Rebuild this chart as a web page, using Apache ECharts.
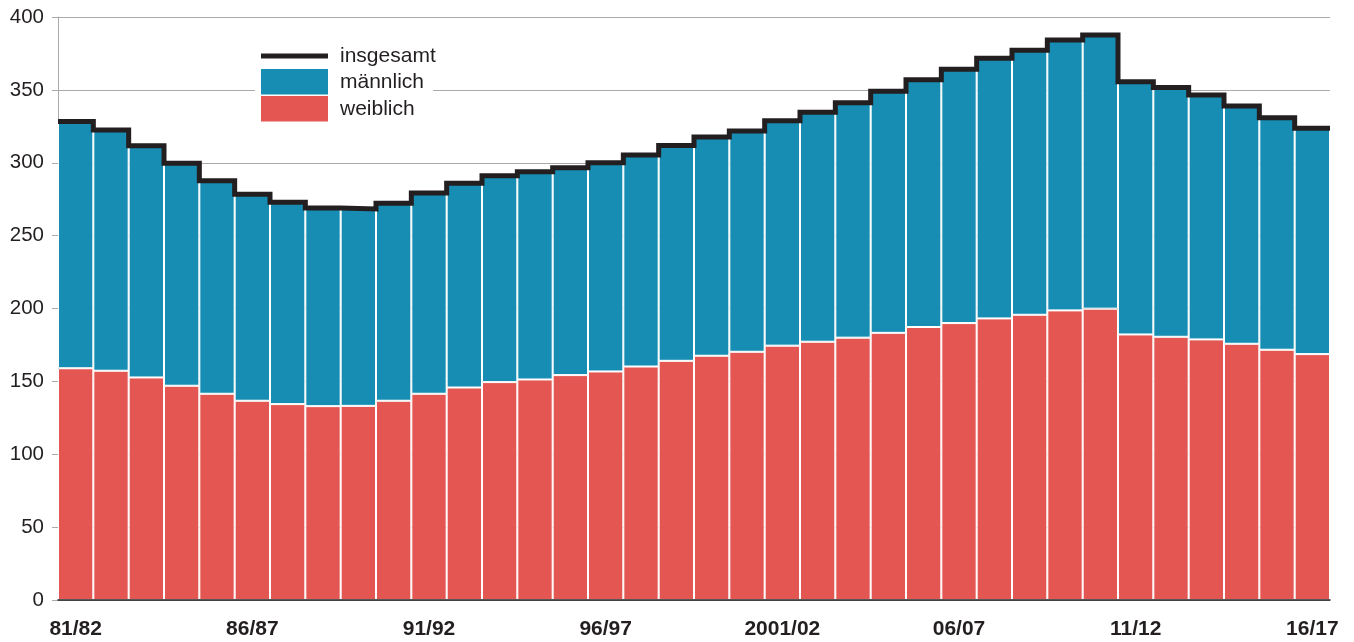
<!DOCTYPE html>
<html>
<head>
<meta charset="utf-8">
<script src="https://cdn.jsdelivr.net/npm/echarts@6/dist/echarts.min.js"></script>
<style>
html,body{margin:0;padding:0;background:#fff;}
#chart{width:1354px;height:642px;}
</style>
</head>
<body>
<div id="chart"></div>
<script>
const categories = ["81/82","82/83","83/84","84/85","85/86","86/87","87/88","88/89","89/90","90/91",
  "91/92","92/93","93/94","94/95","95/96","96/97","97/98","98/99","99/2000","2000/01",
  "2001/02","02/03","03/04","04/05","05/06","06/07","07/08","08/09","09/10","10/11",
  "11/12","12/13","13/14","14/15","15/16","16/17"];
const weiblich = [159,157.3,152.7,147,141.5,136.7,134.4,133,133.2,136.7,
  141.5,145.8,149.5,151.3,154.3,156.8,160.2,164.1,167.6,170.3,
  174.5,177.2,180,183.3,187.3,190,193.2,195.7,198.7,199.9,
  182.2,180.6,178.8,175.8,171.7,168.7];
const maennlich = [169.3,165.2,158.9,152.6,146.2,141.7,138.5,136,135.1,135.5,
  137.7,140.1,141.5,142.5,142.2,143.2,145.2,147.7,150.1,151.5,
  154.4,157.4,161.2,165.7,169.6,174.1,178.5,181.5,185.5,187.7,
  173.4,171.1,167.6,163.1,159.2,154.9];
const yTicks = [0,50,100,150,200,250,300,350,400];

const insgesamt = weiblich.map((w, i) => +(w + maennlich[i]).toFixed(1));
// step line over full bar widths on a hidden value axis [0, n]
const stepData = insgesamt.map((v, i) => [i, v]);
stepData.push([insgesamt.length, insgesamt[insgesamt.length - 1]]);

const FONT = "'Liberation Sans', Arial, Helvetica, sans-serif";
const TXT = '#231f20';
const chart = echarts.init(document.getElementById('chart'), null, {renderer: 'canvas'});
chart.setOption({
  animation: false,
  backgroundColor: '#fff',
  textStyle: {fontFamily: FONT, color: TXT},
  grid: {left: 58, right: 24, top: 17, bottom: 42, containLabel: false},
  legend: [
    {
      data: [{name: 'insgesamt', icon: 'rect'}],
      left: 255, top: 44, padding: [0, 6, 0, 6],
      itemWidth: 67, itemHeight: 5,
      textStyle: {fontSize: 21, color: TXT, fontFamily: FONT, padding: [0, 0, 0, 7], lineHeight: 24},
      selectedMode: false
    },
    {
      data: [{name: 'männlich', icon: 'rect'}, {name: 'weiblich', icon: 'rect'}],
      orient: 'vertical',
      left: 255, top: 67, padding: [2, 9, 2, 6],
      backgroundColor: '#fff',
      itemWidth: 67, itemHeight: 25.5, itemGap: 1.5,
      itemStyle: {borderWidth: 0},
      textStyle: {fontSize: 21, color: TXT, fontFamily: FONT, padding: [0, 0, 0, 7], lineHeight: 24},
      selectedMode: false,
      z: 10
    }
  ],
  xAxis: [
    {
      type: 'category',
      data: categories,
      boundaryGap: true,
      axisLine: {lineStyle: {color: TXT, width: 1.5}},
      axisTick: {show: false},
      axisLabel: {interval: 4, fontSize: 21, fontWeight: 'bold', color: TXT, fontFamily: FONT, margin: 19},
      splitLine: {show: false},
      z: 5
    },
    {
      type: 'value', min: 0, max: categories.length, show: false
    }
  ],
  yAxis: {
    type: 'value', min: 0, max: 400, interval: 50,
    axisLine: {show: true, lineStyle: {color: '#aaaaaa', width: 1}},
    axisTick: {show: true, length: 6, lineStyle: {color: '#aaaaaa'}},
    axisLabel: {fontSize: 20.5, color: TXT, fontFamily: FONT, margin: 14,
      formatter: v => yTicks.includes(v) ? String(v) : ''},
    splitLine: {show: true, lineStyle: {color: '#aaaaaa', width: 1}}
  },
  series: [
    {
      name: 'weiblich', type: 'bar', stack: 'total', data: weiblich,
      barCategoryGap: 0, barGap: 0,
      itemStyle: {color: '#e45651', borderColor: '#ffffff', borderWidth: 1},
      z: 2
    },
    {
      name: 'männlich', type: 'bar', stack: 'total', data: maennlich,
      barCategoryGap: 0, barGap: 0,
      itemStyle: {color: '#178db3', borderColor: '#ffffff', borderWidth: 1},
      z: 2
    },
    {
      name: 'insgesamt', type: 'line', xAxisIndex: 1, data: stepData,
      step: 'end', symbol: 'none', color: TXT,
      lineStyle: {color: TXT, width: 5, join: 'miter', cap: 'butt'},
      itemStyle: {color: TXT},
      z: 4
    }
  ]
});
</script>
</body>
</html>
